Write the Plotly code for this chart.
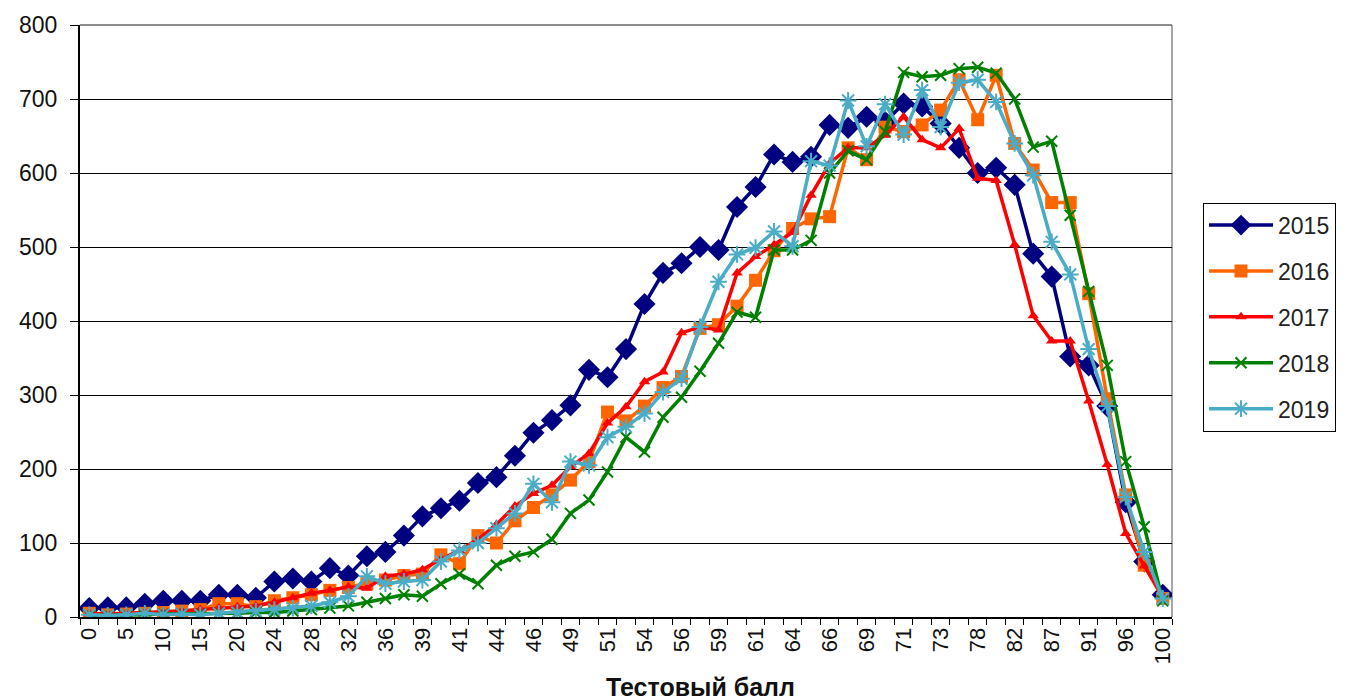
import plotly.graph_objects as go

tick_labels = ["0", "5", "10", "15", "20", "24", "28", "32", "36", "39", "41", "44", "46", "49",
               "51", "54", "56", "59", "61", "64", "66", "69", "71", "73", "78", "82", "87", "91",
               "96", "100"]

y2015 = [12, 13, 13, 18, 22, 22, 22, 30, 30, 26, 48, 52, 48, 66, 56, 82, 88, 110, 136, 147,
         157, 181, 189, 218, 249, 266, 286, 334, 324, 362, 423, 465, 478, 500, 496, 554, 581,
         625, 615, 622, 665, 661, 676, 669, 694, 690, 667, 634, 600, 607, 584, 491, 460, 352,
         340, 285, 155, 75, 30]
y2016 = [5, 3, 4, 5, 6, 8, 10, 18, 18, 14, 22, 26, 30, 36, 40, 45, 50, 56, 58, 84, 72, 110,
         100, 130, 148, 165, 185, 210, 277, 265, 285, 310, 325, 390, 395, 420, 455, 495, 525,
         538, 541, 634, 618, 662, 656, 665, 685, 726, 672, 732, 640, 604, 560, 560, 437, 295,
         165, 70, 25]
y2017 = [5, 4, 5, 6, 6, 8, 10, 12, 14, 15, 20, 26, 32, 36, 41, 39, 55, 58, 64, 78, 90, 105,
         125, 150, 167, 178, 203, 221, 262, 284, 318, 331, 384, 392, 388, 465, 487, 503, 520,
         570, 613, 634, 634, 651, 676, 645, 634, 660, 593, 590, 503, 407, 373, 373, 292, 206,
         113, 69, 28]
y2018 = [2, 2, 3, 3, 4, 4, 4, 5, 5, 6, 6, 8, 10, 12, 15, 20, 25, 30, 28, 45, 58, 45, 70, 82,
         88, 105, 140, 158, 196, 243, 223, 270, 297, 332, 370, 412, 405, 496, 496, 509, 600,
         630, 618, 656, 736, 730, 732, 741, 743, 735, 700, 635, 643, 543, 440, 340, 210, 122, 22]
y2019 = [3, 2, 3, 5, 3, 4, 3, 5, 6, 8, 10, 12, 15, 20, 28, 55, 45, 48, 50, 75, 90, 100, 120,
         140, 180, 155, 210, 205, 243, 257, 275, 304, 322, 392, 453, 490, 499, 521, 501, 616,
         610, 698, 636, 693, 652, 712, 662, 722, 726, 696, 640, 597, 507, 463, 362, 285, 162,
         88, 25]

series = [
    ("2015", y2015, "#000080", "diamond", 17, 0),
    ("2016", y2016, "#FF6600", "square", 13, 0),
    ("2017", y2017, "#FF0000", "triangle-up", 10, 0),
    ("2018", y2018, "#008000", "x-thin-open", 11, 2),
    ("2019", y2019, "#4BACC6", "asterisk-open", 14, 2),
]

n = len(y2015)
xs = list(range(n))

fig = go.Figure()
for name, ys, color, sym, size, lw in series:
    marker = dict(symbol=sym, size=size, color=color)
    if lw:
        marker["line"] = dict(color=color, width=lw)
    else:
        marker["line"] = dict(width=0)
    fig.add_trace(go.Scatter(
        x=xs, y=ys, name=name, mode="lines+markers",
        line=dict(color=color, width=3.5), marker=marker,
        legendgroup=name,
    ))

font_family = "Liberation Sans, Arial, sans-serif"

fig.update_layout(
    width=1342, height=692,
    margin=dict(l=72, r=178, t=17, b=83, autoexpand=False),
    paper_bgcolor="white", plot_bgcolor="white",
    font=dict(family=font_family, color="#111111"),
    showlegend=True,
    legend=dict(
        x=1.0284, y=0.700, xanchor="left", yanchor="top",
        bordercolor="black", borderwidth=1, bgcolor="white",
        font=dict(size=23, color="#222222"),
        itemwidth=64, tracegroupgap=13,
    ),
    xaxis=dict(
        automargin=False,
        range=[-0.5, n - 0.5],
        tickmode="array",
        tickvals=list(range(0, n, 2)),
        ticktext=tick_labels,
        tickangle=-90,
        ticks="",
        tickfont=dict(size=22, color="#111111"),
        showgrid=False,
        zeroline=False,
        showline=True, linecolor="black", linewidth=2,
        minor=dict(
            tickmode="array",
            tickvals=[k - 0.5 for k in range(n + 1)],
            ticks="outside", ticklen=6, tickcolor="black", tickwidth=1,
            showgrid=False,
        ),
    ),
    yaxis=dict(
        automargin=False,
        range=[0, 800],
        tickmode="linear", tick0=0, dtick=100,
        ticks="outside", ticklen=8, tickcolor="black", tickwidth=1,
        tickfont=dict(size=23, color="#111111"),
        ticklabelstandoff=8,
        showgrid=True, gridcolor="black", gridwidth=1,
        zeroline=False,
        showline=True, linecolor="black", linewidth=2,
    ),
    shapes=[
        dict(type="line", xref="paper", yref="paper", x0=1, x1=1, y0=0, y1=1,
             line=dict(color="#888888", width=1.5), layer="below"),
        dict(type="line", xref="paper", yref="paper", x0=0, x1=1, y0=1, y1=1,
             line=dict(color="#666666", width=1.5), layer="below"),
    ],
    annotations=[
        dict(text="<b>Тестовый балл</b>", xref="paper", yref="paper",
             x=0.568, y=-0.118, xanchor="center", yanchor="middle",
             showarrow=False, font=dict(size=25, color="#111111")),
    ],
)

fig.write_html("out.html")
